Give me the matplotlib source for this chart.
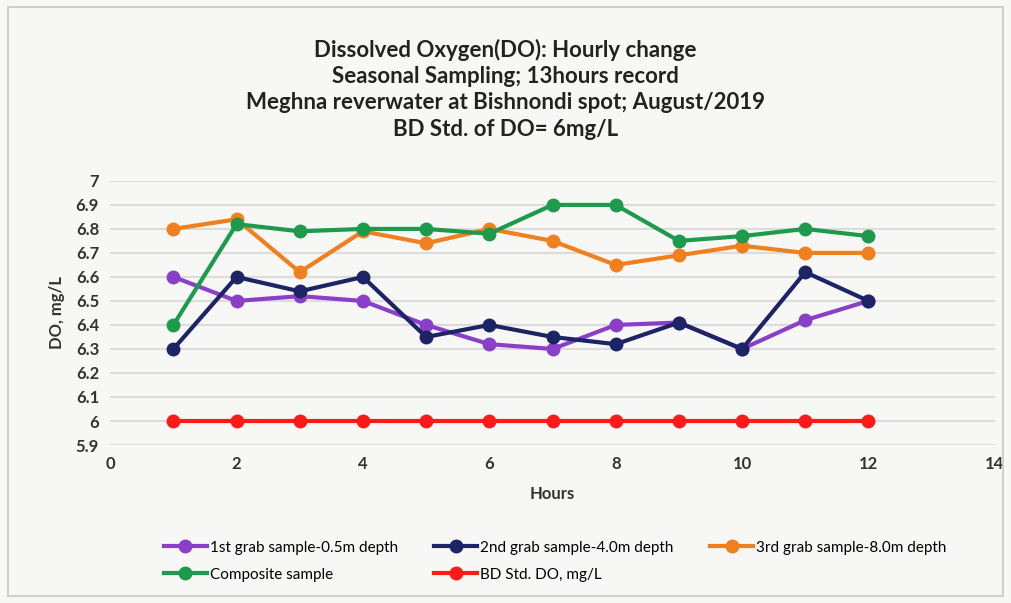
import numpy as np
import matplotlib.pyplot as plt

# hourly DO readings, mg/L
hours = [1, 2, 3, 4, 5, 6, 7, 8, 9, 10, 11, 12]
grab1 = [6.6, 6.5, 6.52, 6.5, 6.4, 6.32, 6.3, 6.4, 6.41, 6.3, 6.42, 6.5]
grab2 = [6.3, 6.6, 6.54, 6.6, 6.35, 6.4, 6.35, 6.32, 6.41, 6.3, 6.62, 6.5]
grab3 = [6.8, 6.84, 6.62, 6.79, 6.74, 6.8, 6.75, 6.65, 6.69, 6.73, 6.7, 6.7]
composite = [6.4, 6.82, 6.79, 6.8, 6.8, 6.78, 6.9, 6.9, 6.75, 6.77, 6.8, 6.77]
bd_std = [6, 6, 6, 6, 6, 6, 6, 6, 6, 6, 6, 6]

plt.rcParams['font.family'] = ['Lato', 'DejaVu Sans']

fig = plt.figure(figsize=(10.11, 6.03), dpi=100)
fig.patch.set_facecolor("#f7f7f5")
ax = fig.add_axes([0.109, 0.262, 0.875, 0.438])
ax.set_facecolor("#f7f7f5")

# outer frame
fig.patches.append(plt.Rectangle((0.008, 0.012), 0.984, 0.976, transform=fig.transFigure,
                                 fill=False, edgecolor="#c8c8c8", linewidth=1.2))

series = [
    (grab1, "#8a3fc8", "1st grab sample-0.5m depth"),
    (grab2, "#1c2466", "2nd grab sample-4.0m depth"),
    (grab3, "#f07f1e", "3rd grab sample-8.0m depth"),
    (composite, "#1e9a4c", "Composite sample"),
    (bd_std, "#ff1a1a", "BD Std. DO, mg/L"),
]
lines = []
for vals, col, lab in series:
    ln, = ax.plot(hours, vals, "-o", color=col, linewidth=3, markersize=9, label=lab)
    lines.append(ln)

ax.set_xlim(0, 14)
ax.set_ylim(5.9, 7.0)
ax.set_xticks(np.arange(0, 15, 2))
yt = np.round(np.arange(5.9, 7.01, 0.1), 1)
ax.set_yticks(yt)
ax.set_yticklabels([f"{v:g}" for v in yt])
ax.grid(axis="y", color="#dcdcdc", linewidth=1.5)
ax.set_axisbelow(True)
for s in ax.spines.values():
    s.set_visible(False)
ax.tick_params(length=0, labelsize=12, pad=8)
for t in ax.get_xticklabels() + ax.get_yticklabels():
    t.set_fontweight("bold")
    t.set_color("#333333")

ax.set_xlabel("Hours", fontsize=12, fontweight="bold", color="#333333", labelpad=10)
ax.set_ylabel("DO, mg/L", fontsize=12, fontweight="bold", color="#333333", labelpad=8)

fig.text(0.5, 0.852, "Dissolved Oxygen(DO): Hourly change\nSeasonal Sampling; 13hours record\n"
         "Meghna reverwater at Bishnondi spot; August/2019\nBD Std. of DO= 6mg/L",
         ha="center", va="center", fontsize=16, fontweight="bold", color="#222222",
         linespacing=1.32)

# matplotlib fills legend columns first; reorder so rows read like the original
order = [0, 3, 1, 4, 2]
ax.legend([lines[i] for i in order], [series[i][2] for i in order],
          loc="upper left", bbox_to_anchor=(0.045, -0.31), ncol=3, frameon=False,
          fontsize=11, handlelength=2.8, handletextpad=0.2, columnspacing=2.4,
          labelspacing=0.85)

fig.savefig("out.png", dpi=100, facecolor=fig.get_facecolor())
